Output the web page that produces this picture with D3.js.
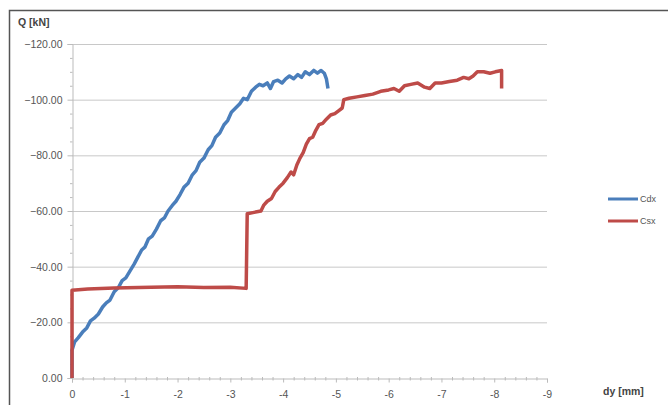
<!DOCTYPE html>
<html>
<head>
<meta charset="utf-8">
<script src="https://cdn.jsdelivr.net/npm/d3@7"></script>
<style>
  body { margin: 0; background: #fff; }
  svg { display: block; font-family: "Liberation Sans", Arial, sans-serif; }
</style>
</head>
<body>
<svg id="chart" width="668" height="405"></svg>
<script>
// series values: [dy (mm), Q (kN)]
const cdx = [
  [0, 0], [0, -10], [-0.05, -13], [-0.12, -14.5], [-0.2, -16.5], [-0.28, -18], [-0.35, -20.5],
  [-0.42, -21.5], [-0.5, -23], [-0.58, -25.5], [-0.65, -27], [-0.72, -28], [-0.8, -31],
  [-0.88, -32.5], [-0.95, -35], [-1.02, -36], [-1.1, -38.5], [-1.18, -41], [-1.25, -43.5],
  [-1.32, -46], [-1.38, -47], [-1.45, -50], [-1.52, -51], [-1.6, -53.5], [-1.68, -56.5],
  [-1.75, -57.5], [-1.82, -60], [-1.9, -62], [-1.97, -63.5], [-2.05, -66], [-2.12, -68.5],
  [-2.2, -70], [-2.28, -73], [-2.35, -74.5], [-2.42, -77.5], [-2.5, -79], [-2.58, -82],
  [-2.65, -83.5], [-2.72, -86.5], [-2.8, -88], [-2.88, -91], [-2.95, -92.5], [-3.02, -95.5],
  [-3.1, -97], [-3.18, -98.5], [-3.25, -100.5], [-3.32, -100], [-3.4, -103], [-3.48, -104.5],
  [-3.55, -105.5], [-3.62, -105], [-3.7, -106], [-3.76, -104], [-3.82, -106.5], [-3.9, -107],
  [-3.98, -106], [-4.05, -107.5], [-4.12, -108.5], [-4.2, -107.5], [-4.28, -109], [-4.35, -108],
  [-4.42, -110], [-4.5, -109], [-4.58, -110.5], [-4.65, -109.5], [-4.72, -110.5], [-4.78, -109.5],
  [-4.82, -107.5], [-4.85, -104]
];

const csx = [
  [0, 0], [0, -31.5], [-0.3, -32], [-0.8, -32.3], [-1.5, -32.6], [-2.0, -32.8], [-2.5, -32.5],
  [-3.0, -32.6], [-3.3, -32.2], [-3.32, -59], [-3.45, -59.5], [-3.58, -60], [-3.63, -62],
  [-3.7, -63.5], [-3.78, -64.5], [-3.85, -67], [-3.92, -68.5], [-4.0, -70], [-4.08, -72],
  [-4.15, -74], [-4.2, -73], [-4.26, -76.5], [-4.32, -79], [-4.38, -81], [-4.44, -84],
  [-4.5, -86], [-4.56, -86.5], [-4.62, -89], [-4.68, -91], [-4.75, -91.5], [-4.82, -93],
  [-4.9, -94.5], [-4.98, -95], [-5.05, -96], [-5.12, -97], [-5.15, -100], [-5.25, -100.5],
  [-5.4, -101], [-5.55, -101.5], [-5.7, -102], [-5.85, -103], [-6.0, -103.5], [-6.1, -104],
  [-6.2, -103], [-6.3, -105], [-6.42, -105.5], [-6.55, -106], [-6.68, -104.5], [-6.78, -104],
  [-6.88, -106], [-7.0, -106], [-7.15, -106.5], [-7.3, -107], [-7.42, -108], [-7.52, -107.5],
  [-7.6, -108.5], [-7.68, -110], [-7.8, -110], [-7.92, -109.5], [-8.02, -110], [-8.14, -110.5],
  [-8.14, -104]
];

const seriesNames = ["Cdx", "Csx"];
const seriesColors = ["#4a7ebb", "#be4b48"];
const xTicks = [0, -1, -2, -3, -4, -5, -6, -7, -8, -9];
const yTicks = [0, -20, -40, -60, -80, -100, -120];

const svg = d3.select("#chart");

// outer frame (picture is cropped on right and bottom)
svg.append("path")
  .attr("d", "M9.5,405 L9.5,10.5 L668,10.5")
  .attr("fill", "none")
  .attr("stroke", "#555")
  .attr("stroke-width", 1.5);

const x = d3.scaleLinear().domain([0, -9]).range([72, 547]);
const y = d3.scaleLinear().domain([0, -120]).range([378, 44]);

// horizontal gridlines
svg.append("g")
  .selectAll("line")
  .data(yTicks.filter(d => d !== 0))
  .join("line")
  .attr("x1", x(0)).attr("x2", x(-9))
  .attr("y1", d => y(d) + 0.5).attr("y2", d => y(d) + 0.5)
  .attr("stroke", "#c8c8c8")
  .attr("stroke-width", 1);

// y axis
const yAxis = svg.append("g")
  .attr("transform", `translate(${x(0) + 0.5},0)`)
  .call(d3.axisLeft(y).tickValues(yTicks).tickFormat(d => d === 0 ? "0.00" : d3.format(".2f")(d)).tickSize(5).tickPadding(5));

// y minor ticks
svg.append("g")
  .selectAll("line")
  .data(d3.range(0, 24).map(i => -i * 5).filter(v => v % 20 !== 0))
  .join("line")
  .attr("x1", x(0) - 2).attr("x2", x(0) + 0.5)
  .attr("y1", d => y(d) + 0.5).attr("y2", d => y(d) + 0.5)
  .attr("stroke", "#bbb");

// x axis
const xAxis = svg.append("g")
  .attr("transform", `translate(0,${y(0) + 0.5})`)
  .call(d3.axisBottom(x).tickValues(xTicks).tickFormat(d => d === 0 ? "0" : d).tickSize(4).tickPadding(8));

// x minor ticks
svg.append("g")
  .selectAll("line")
  .data(d3.range(1, 45).map(i => -i * 0.2).filter(v => Math.abs(v - Math.round(v)) > 0.01))
  .join("line")
  .attr("x1", d => x(d) + 0.5).attr("x2", d => x(d) + 0.5)
  .attr("y1", y(0) - 1).attr("y2", y(0) + 2.5)
  .attr("stroke", "#bbb");

[yAxis, xAxis].forEach(g => {
  g.select(".domain").attr("stroke", "#bbb");
  g.selectAll(".tick line").attr("stroke", "#bbb");
  g.selectAll(".tick text").attr("fill", "#555").attr("font-size", 10.5);
});

// lines
const line = d3.line().x(d => x(d[0])).y(d => y(d[1]));

[cdx, csx].forEach((data, i) => {
  svg.append("path")
    .datum(data)
    .attr("d", line)
    .attr("fill", "none")
    .attr("stroke", seriesColors[i])
    .attr("stroke-width", 3.5)
    .attr("stroke-linejoin", "round");
});

// axis titles
svg.append("text")
  .attr("x", 18).attr("y", 26)
  .attr("font-size", 10.5).attr("font-weight", "bold").attr("fill", "#444")
  .text("Q [kN]");

svg.append("text")
  .attr("x", 603).attr("y", 395)
  .attr("font-size", 10.5).attr("font-weight", "bold").attr("fill", "#444")
  .text("dy [mm]");

// legend
const legend = svg.append("g");
seriesNames.forEach((name, i) => {
  const ly = 199 + i * 22;
  legend.append("line")
    .attr("x1", 608).attr("x2", 638)
    .attr("y1", ly).attr("y2", ly)
    .attr("stroke", seriesColors[i]).attr("stroke-width", 3);
  legend.append("text")
    .attr("x", 640).attr("y", ly + 3)
    .attr("font-size", 9).attr("fill", "#555")
    .text(name);
});
</script>
</body>
</html>
